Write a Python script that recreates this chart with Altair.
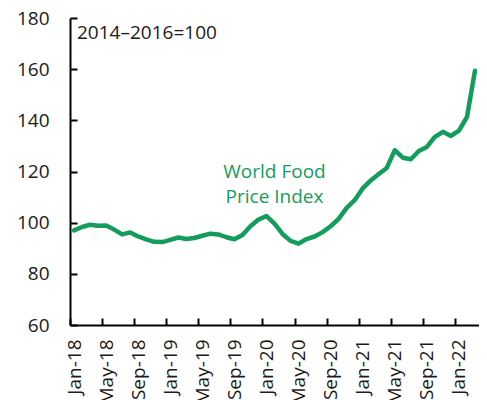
import altair as alt
import pandas as pd

# --- data -------------------------------------------------------------
months = [
    "Jan-18", "Feb-18", "Mar-18", "Apr-18", "May-18", "Jun-18", "Jul-18", "Aug-18", "Sep-18", "Oct-18", "Nov-18", "Dec-18",
    "Jan-19", "Feb-19", "Mar-19", "Apr-19", "May-19", "Jun-19", "Jul-19", "Aug-19", "Sep-19", "Oct-19", "Nov-19", "Dec-19",
    "Jan-20", "Feb-20", "Mar-20", "Apr-20", "May-20", "Jun-20", "Jul-20", "Aug-20", "Sep-20", "Oct-20", "Nov-20", "Dec-20",
    "Jan-21", "Feb-21", "Mar-21", "Apr-21", "May-21", "Jun-21", "Jul-21", "Aug-21", "Sep-21", "Oct-21", "Nov-21", "Dec-21",
    "Jan-22", "Feb-22", "Mar-22",
]
food_price_index = [
    97.0, 98.3, 99.2, 98.8, 98.9, 97.3, 95.4, 96.2, 94.6, 93.5, 92.5, 92.4,
    93.3, 94.2, 93.6, 94.0, 94.9, 95.7, 95.4, 94.3, 93.5, 95.2, 98.6, 101.2,
    102.6, 99.6, 95.6, 92.9, 91.8, 93.6, 94.6, 96.3, 98.6, 101.5, 105.8, 108.8,
    113.4, 116.5, 119.0, 121.4, 128.3, 125.4, 124.8, 128.0, 129.6, 133.5, 135.5, 133.9,
    136.0, 141.3, 159.4,
]
x_tick_labels = ["Jan-18", "May-18", "Sep-18", "Jan-19", "May-19", "Sep-19", "Jan-20",
                 "May-20", "Sep-20", "Jan-21", "May-21", "Sep-21", "Jan-22"]
y_ticks = [60, 80, 100, 120, 140, 160, 180]
base_note = ["2014\u20132016=100"]
series_label = ["World Food", "Price Index"]
series_label_month = "Feb-20"
series_label_value = 120

GREEN = "#149c5c"
FONT = "Open Sans"
FS = 19
W, H = 409, 307

# month slot k spans [k, k+1] on the x scale; each monthly value sits mid-slot
df = pd.DataFrame({"month": months, "value": food_price_index})
df["slot"] = [months.index(m) + 0.5 for m in df["month"]]

tick_pos = [months.index(m) for m in x_tick_labels]
label_lookup = "{" + ",".join(f"'{p}':'{m}'" for p, m in zip(tick_pos, x_tick_labels)) + "}"

x_scale = alt.Scale(domain=[0, len(months)], nice=False, zero=False)
y_scale = alt.Scale(domain=[60, 180], nice=False, zero=False)

x_label_axis = alt.Axis(values=tick_pos, labelExpr=f"{label_lookup}[datum.value]",
                        labelAngle=-90, labelAlign="right", labelBaseline="middle",
                        ticks=False, domainWidth=2, domainColor="black", labelPadding=14,
                        labelOffset=4, labelFont=FONT, labelFontSize=FS,
                        labelColor="#1a1a1a", labelFlush=False, labelOverlap=False,
                        title=None, grid=False)
y_label_axis = alt.Axis(values=y_ticks, ticks=False, labelPadding=21, domainWidth=2,
                        domainColor="black", labelFont=FONT, labelFontSize=FS,
                        labelColor="#1a1a1a", labelFlush=False, title=None, grid=False)

line = alt.Chart(df).mark_line(
    color=GREEN, strokeWidth=4.5, strokeJoin="round", strokeCap="round"
).encode(
    x=alt.X("slot:Q", scale=x_scale, axis=x_label_axis),
    y=alt.Y("value:Q", scale=y_scale, axis=y_label_axis),
)

# invisible copy carrying inward-pointing tick axes
tick_axes = alt.Chart(df).mark_line(strokeOpacity=0).encode(
    x=alt.X("slot:Q", scale=x_scale,
            axis=alt.Axis(orient="top", offset=-H, values=tick_pos, labels=False,
                          domain=False, tickSize=7, tickWidth=2, tickColor="black",
                          title=None, grid=False)),
    y=alt.Y("value:Q", scale=y_scale,
            axis=alt.Axis(orient="right", offset=-W, values=y_ticks, labels=False,
                          domain=False, tickSize=7, tickWidth=2, tickColor="black",
                          title=None, grid=False)),
)

note = alt.Chart(pd.DataFrame({"t": base_note})).mark_text(
    align="left", baseline="middle", font=FONT, fontSize=FS, color="#1a1a1a"
).encode(text="t:N", x=alt.value(7), y=alt.value(15))

label_df = pd.DataFrame({"t": [series_label],
                         "slot": [months.index(series_label_month) + 0.5],
                         "v": [series_label_value]})
label = alt.Chart(label_df).mark_text(
    align="center", baseline="middle", font=FONT, fontSize=FS, color=GREEN, lineHeight=25
).encode(
    text="t",
    x=alt.X("slot:Q", scale=x_scale, axis=None),
    y=alt.Y("v:Q", scale=y_scale, axis=None),
)

chart = alt.layer(line, tick_axes, note, label).resolve_axis(
    x="independent", y="independent"
).properties(
    width=W, height=H,
    autosize=alt.AutoSizeParams(type="none"),
    padding={"left": 62, "top": 10, "right": 0, "bottom": 80},
).configure_view(stroke=None)

chart.save("out.html", embed_options={"renderer": "svg", "actions": False})
